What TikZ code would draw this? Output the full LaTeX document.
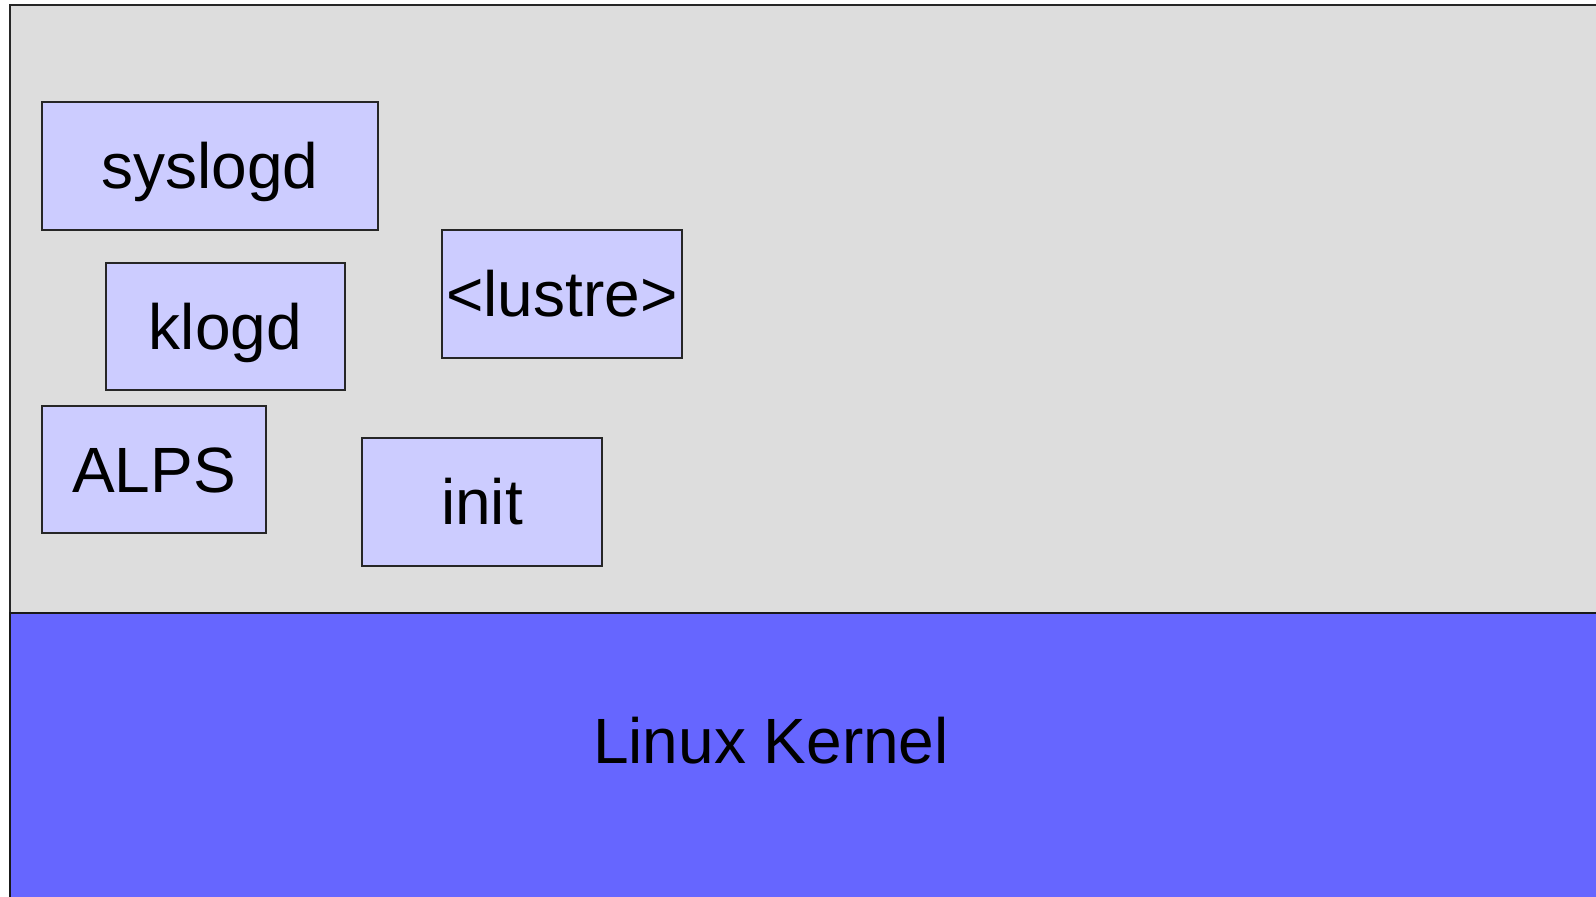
\documentclass[tikz,border=0pt]{standalone}
\usepackage{fontspec}
\setmainfont{Liberation Sans}
\usepackage{tikz}
\usetikzlibrary{positioning}

\definecolor{userbg}{HTML}{DDDDDD}
\definecolor{procfill}{HTML}{CCCCFF}
\definecolor{kernfill}{HTML}{6666FF}

\tikzset{
  label text/.style={inner sep=0pt,text height=13pt,text depth=0pt,
    font=\fontsize{18.2}{22}\selectfont},
  proc/.style={label text,draw=black!85,fill=procfill,line width=0.5pt,anchor=north west},
}

\begin{document}
\begin{tikzpicture}[x=0.01cm,y=-0.01cm]
\useasboundingbox (0,0) rectangle (1596,897);
\clip (0,0) rectangle (1596,897);

% user space
\draw[fill=userbg,draw=black!85,line width=0.5pt] (10,5) rectangle (1620,613);

% kernel
\draw[fill=kernfill,draw=black!90,line width=0.6pt] (10,613) rectangle (1620,920);
\node[label text] (kernel) at (771,741) {Linux Kernel};

% daemons
\node[proc,minimum width=3.36cm,minimum height=1.28cm] (syslogd) at (41,101) {syslogd};
\node[proc,minimum width=2.39cm,minimum height=1.27cm] (klogd) at (105,262) {klogd};
\node[proc,minimum width=2.24cm,minimum height=1.27cm] (alps) at (41,405) {ALPS};
\node[proc,minimum width=2.40cm,minimum height=1.28cm] (lustre) at (441,229) {<lustre>};
\node[proc,minimum width=2.40cm,minimum height=1.28cm] (init) at (361,437) {init};
\end{tikzpicture}
\end{document}
